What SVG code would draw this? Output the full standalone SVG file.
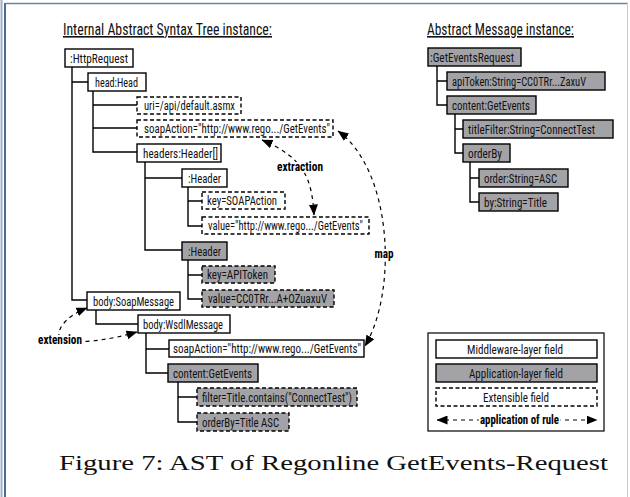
<svg xmlns="http://www.w3.org/2000/svg" width="630" height="497" viewBox="0 0 630 497">
<defs>
<marker id="ah" viewBox="0 0 11 9" refX="10.5" refY="4.5" markerWidth="11" markerHeight="9" markerUnits="userSpaceOnUse" orient="auto-start-reverse">
<path d="M0,0 L11,4.5 L0,9 z" fill="#000"/>
</marker>
</defs>
<style>
.b{fill:#fff;stroke:#000;stroke-width:1.4}
.g{fill:#a3a3a7;stroke:#000;stroke-width:1.4}
.d{stroke-dasharray:4 2.5}
.t{font-family:"Liberation Sans Narrow","Roboto Condensed","DejaVu Sans Condensed","Liberation Sans",sans-serif;font-stretch:condensed;font-size:13.5px;fill:#111}
.h{font-family:"Liberation Sans Narrow","Roboto Condensed","DejaVu Sans Condensed","Liberation Sans",sans-serif;font-stretch:condensed;font-size:16px;fill:#111;text-decoration:underline}
.lbl{font-family:"Liberation Sans Narrow","Roboto Condensed","DejaVu Sans Condensed","Liberation Sans",sans-serif;font-stretch:condensed;font-size:12.5px;font-weight:bold;fill:#000;stroke:#fff;stroke-width:4;paint-order:stroke;text-anchor:middle}
.tree{fill:none;stroke:#000;stroke-width:1.4}
.arr{fill:none;stroke:#000;stroke-width:1.2;stroke-dasharray:4 4}
.cap{font-family:"Liberation Serif","DejaVu Serif",serif;font-size:21px;fill:#111}
</style>
<rect x="0" y="0" width="630" height="497" fill="#fff"/>
<line x1="1.5" y1="0" x2="1.5" y2="497" stroke="#9fb0c6" stroke-width="2"/>
<line x1="5" y1="3" x2="5" y2="497" stroke="#4d6b8c" stroke-width="2"/>
<line x1="5" y1="3.5" x2="628" y2="3.5" stroke="#6a84a2" stroke-width="1.5"/>
<line x1="627.5" y1="3" x2="627.5" y2="497" stroke="#c8ccd2" stroke-width="1"/>

<text class="h" x="63" y="35" textLength="209" lengthAdjust="spacingAndGlyphs">Internal Abstract Syntax Tree instance:</text>
<text class="h" x="427" y="35" textLength="147" lengthAdjust="spacingAndGlyphs">Abstract Message instance:</text>

<g id="connectors">
<path class="tree" d="M72,67 V300 H87 M72,82 H88"/>
<path class="tree" d="M93,91 V152 H137 M93,105 H137 M93,128 H137"/>
<path class="tree" d="M145,162 V250 H182 M145,178 H182"/>
<path class="tree" d="M188,187 V226 H202 M188,201 H202"/>
<path class="tree" d="M188,260 V299 H202 M188,275 H202"/>
<path class="tree" d="M96,310 V324 H138"/>
<path class="tree" d="M146,333 V373 H168 M146,349 H169"/>
<path class="tree" d="M178,382 V422 H197 M178,397 H197"/>
<path class="tree" d="M437,66 V105 H447 M437,81 H447"/>
<path class="tree" d="M455,114 V153 H463 M455,129 H463"/>
<path class="tree" d="M470,162 V202 H479 M470,178 H479"/>
<path class="arr" d="M314,215 C312,180 305,158 262,140" marker-start="url(#ah)" marker-end="url(#ah)"/>
<path class="arr" d="M338,131 C392,170 398,290 365,346" marker-start="url(#ah)" marker-end="url(#ah)"/>
<path class="arr" d="M87,308 C62,318 56,332 60,340 C80,344 110,340 137,332" marker-start="url(#ah)" marker-end="url(#ah)"/>
<text class="lbl" x="300" y="171" textLength="46" lengthAdjust="spacingAndGlyphs">extraction</text>
<text class="lbl" x="384" y="258" textLength="19" lengthAdjust="spacingAndGlyphs">map</text>
<text class="lbl" x="60" y="344" textLength="44" lengthAdjust="spacingAndGlyphs">extension</text>
</g>

<g id="n1"><rect class="b" x="65" y="49" width="68" height="18"/><text class="t" x="70" y="62.5" textLength="58" lengthAdjust="spacingAndGlyphs">:HttpRequest</text></g>
<g id="n2"><rect class="b" x="88" y="73" width="58" height="18"/><text class="t" x="95" y="86.5" textLength="43" lengthAdjust="spacingAndGlyphs">head:Head</text></g>
<g id="n3"><rect class="b d" x="137" y="97" width="104" height="17"/><text class="t" x="144" y="110" textLength="91" lengthAdjust="spacingAndGlyphs">uri=/api/default.asmx</text></g>
<g id="n4"><rect class="b d" x="137" y="120" width="196" height="17"/><text class="t" x="144" y="133" textLength="186" lengthAdjust="spacingAndGlyphs">soapAction="http://www.rego.../GetEvents"</text></g>
<g id="n5"><rect class="b" x="137" y="144" width="84" height="18"/><text class="t" x="143" y="157.5" textLength="75" lengthAdjust="spacingAndGlyphs">headers:Header[]</text></g>
<g id="n6"><rect class="b" x="182" y="169" width="45" height="18"/><text class="t" x="188" y="182.5" textLength="33" lengthAdjust="spacingAndGlyphs">:Header</text></g>
<g id="n7"><rect class="b d" x="202" y="192" width="83" height="17"/><text class="t" x="207" y="205" textLength="70" lengthAdjust="spacingAndGlyphs">key=SOAPAction</text></g>
<g id="n8"><rect class="b d" x="202" y="217" width="167" height="17"/><text class="t" x="208" y="230" textLength="155" lengthAdjust="spacingAndGlyphs">value="http://www.rego.../GetEvents"</text></g>
<g id="n9"><rect class="g" x="182" y="242" width="45" height="18"/><text class="t" x="188" y="255.5" textLength="33" lengthAdjust="spacingAndGlyphs">:Header</text></g>
<g id="n10"><rect class="g d" x="202" y="266" width="73" height="17"/><text class="t" x="207" y="279" textLength="61" lengthAdjust="spacingAndGlyphs">key=APIToken</text></g>
<g id="n11"><rect class="g d" x="202" y="290" width="132" height="17"/><text class="t" x="208" y="303" textLength="119" lengthAdjust="spacingAndGlyphs">value=CC0TRr...A+OZuaxuV</text></g>
<g id="n12"><rect class="b" x="87" y="292" width="93" height="18"/><text class="t" x="93" y="305.5" textLength="81" lengthAdjust="spacingAndGlyphs">body:SoapMessage</text></g>
<g id="n13"><rect class="b" x="138" y="315" width="92" height="18"/><text class="t" x="143" y="328.5" textLength="80" lengthAdjust="spacingAndGlyphs">body:WsdlMessage</text></g>
<g id="n14"><rect class="b" x="169" y="340" width="195" height="17"/><text class="t" x="173" y="353" textLength="188" lengthAdjust="spacingAndGlyphs">soapAction="http://www.rego.../GetEvents"</text></g>
<g id="n15"><rect class="g" x="168" y="364" width="90" height="18"/><text class="t" x="173" y="377.5" textLength="79" lengthAdjust="spacingAndGlyphs">content:GetEvents</text></g>
<g id="n16"><rect class="g d" x="197" y="388" width="160" height="18"/><text class="t" x="202" y="401.5" textLength="150" lengthAdjust="spacingAndGlyphs">filter=Title.contains("ConnectTest")</text></g>
<g id="n17"><rect class="g d" x="197" y="413" width="92" height="18"/><text class="t" x="202" y="426.5" textLength="77" lengthAdjust="spacingAndGlyphs">orderBy=Title ASC</text></g>

<g id="m1"><rect class="g" x="428" y="48" width="93" height="18"/><text class="t" x="430" y="61.5" textLength="84" lengthAdjust="spacingAndGlyphs">:GetEventsRequest</text></g>
<g id="m2"><rect class="g" x="447" y="72" width="158" height="18"/><text class="t" x="452" y="85.5" textLength="134" lengthAdjust="spacingAndGlyphs">apiToken:String=CC0TRr...ZaxuV</text></g>
<g id="m3"><rect class="g" x="447" y="96" width="89" height="18"/><text class="t" x="452" y="109.5" textLength="78" lengthAdjust="spacingAndGlyphs">content:GetEvents</text></g>
<g id="m4"><rect class="g" x="463" y="120" width="150" height="18"/><text class="t" x="468" y="133.5" textLength="127" lengthAdjust="spacingAndGlyphs">titleFilter:String=ConnectTest</text></g>
<g id="m5"><rect class="g" x="463" y="144" width="47" height="18"/><text class="t" x="468" y="157.5" textLength="34" lengthAdjust="spacingAndGlyphs">orderBy</text></g>
<g id="m6"><rect class="g" x="479" y="169" width="89" height="18"/><text class="t" x="484" y="182.5" textLength="73" lengthAdjust="spacingAndGlyphs">order:String=ASC</text></g>
<g id="m7"><rect class="g" x="479" y="193" width="79" height="18"/><text class="t" x="484" y="206.5" textLength="63" lengthAdjust="spacingAndGlyphs">by:String=Title</text></g>

<g id="legend">
<rect x="428" y="333" width="176" height="98" fill="#fff" stroke="#000" stroke-width="1.2"/>
<rect class="b" x="436" y="340" width="161" height="18"/><text class="t" x="467" y="353.5" textLength="96" lengthAdjust="spacingAndGlyphs">Middleware-layer field</text>
<rect class="g" x="436" y="364" width="161" height="18"/><text class="t" x="469" y="377.5" textLength="94" lengthAdjust="spacingAndGlyphs">Application-layer field</text>
<rect class="b d" x="436" y="388" width="161" height="18"/><text class="t" x="483" y="401.5" textLength="66" lengthAdjust="spacingAndGlyphs">Extensible field</text>
<path class="arr" d="M437,420 H597" marker-start="url(#ah)" marker-end="url(#ah)"/>
<text class="lbl" x="519.5" y="424" textLength="79" lengthAdjust="spacingAndGlyphs">application of rule</text>
</g>

<text class="cap" x="59" y="470" textLength="549" lengthAdjust="spacingAndGlyphs">Figure 7: AST of Regonline GetEvents-Request</text>
</svg>
